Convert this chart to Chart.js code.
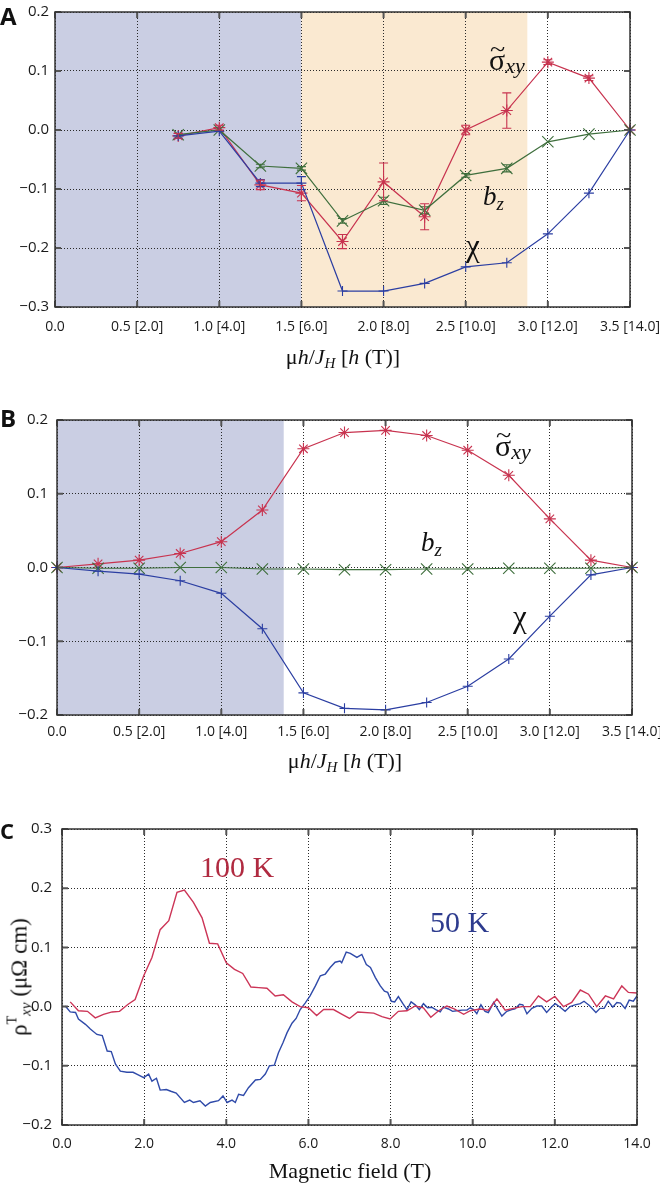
<!DOCTYPE html>
<html><head><meta charset="utf-8">
<script src="https://cdn.jsdelivr.net/npm/chart.js@4.4.1/dist/chart.umd.min.js"></script>
<style>
body{margin:0;width:660px;height:1187px;background:#fff;position:relative;overflow:hidden;}
canvas{position:absolute;left:0;}
.lbl{position:absolute;font-family:'Liberation Serif','DejaVu Serif',serif;white-space:nowrap;line-height:1;color:#111;}
.panel{position:absolute;left:0;font-family:'Open Sans',sans-serif;font-weight:bold;line-height:1;color:#111;}
.ctr{transform:translateX(-50%);}
.sig{position:relative;display:inline-block;font-size:30px;}
.til{position:absolute;left:1px;top:-9px;font-size:28px;transform:scaleY(0.8);}
</style></head><body>
<canvas id="cA" width="660" height="380" style="top:0"></canvas>
<canvas id="cB" width="660" height="400" style="top:380px"></canvas>
<canvas id="cC" width="660" height="407" style="top:780px"></canvas>

<div class="panel" style="top:4px;font-size:24px">A</div>
<div class="panel" style="top:406px;font-size:24px">B</div>
<div class="panel" style="top:819px;font-size:22px">C</div>

<div class="lbl" style="left:489px;top:45px"><span class="sig">σ<span class="til">~</span></span><i style="font-size:22px;position:relative;top:3px">xy</i></div>
<div class="lbl" style="left:483px;top:183px"><i style="font-size:27px">b</i><i style="font-size:19px;position:relative;top:5px">z</i></div>
<div class="lbl" style="left:466px;top:230px;font-size:31px">χ</div>

<div class="lbl" style="left:495px;top:431px"><span class="sig">σ<span class="til">~</span></span><i style="font-size:22px;position:relative;top:3px">xy</i></div>
<div class="lbl" style="left:421px;top:529px"><i style="font-size:27px">b</i><i style="font-size:19px;position:relative;top:5px">z</i></div>
<div class="lbl" style="left:513px;top:601px;font-size:31px">χ</div>

<div class="lbl" style="left:200px;top:852px;font-size:30px;color:#b02a40">100 K</div>
<div class="lbl" style="left:430px;top:907px;font-size:30px;color:#2d3b8e">50 K</div>

<div class="lbl ctr" style="left:343px;top:346px;font-size:22px">μ<i>h</i>/<i>J</i><i style="font-size:15px;position:relative;top:4px">H</i> [<i>h</i> (T)]</div>
<div class="lbl ctr" style="left:345px;top:750px;font-size:22px">μ<i>h</i>/<i>J</i><i style="font-size:15px;position:relative;top:4px">H</i> [<i>h</i> (T)]</div>
<div class="lbl ctr" style="left:350px;top:1160px;font-size:22px">Magnetic field (T)</div>
<div class="lbl" style="left:19px;top:977px;font-size:23px;transform:translate(-50%,-50%) rotate(-90deg)">ρ<span style="font-size:14px;position:relative;top:-10px">T</span><i style="font-size:15px;position:relative;top:4px">xy</i> (μΩ cm)</div>

<script>
// ---------- data ----------
const xTicksAB = ['0.0','0.5 [2.0]','1.0 [4.0]','1.5 [6.0]','2.0 [8.0]','2.5 [10.0]','3.0 [12.0]','3.5 [14.0]'];
const xTicksC = ['0.0','2.0','4.0','6.0','8.0','10.0','12.0','14.0'];

// Panel A
const aX        = [0.75, 1.0, 1.25, 1.5, 1.75, 2.0, 2.25, 2.5, 2.75, 3.0, 3.25, 3.5];
const aSigma    = [-0.010, 0.004, -0.093, -0.107, -0.189, -0.088, -0.147, 0.000, 0.033, 0.115, 0.088, 0.0];
const aSigmaErr = [0.004, 0.004, 0.008, 0.013, 0.012, 0.032, 0.022, 0.008, 0.030, 0.004, 0.004, 0];
const aBz       = [-0.008, 0.000, -0.061, -0.065, -0.154, -0.120, -0.136, -0.077, -0.065, -0.020, -0.007, 0.0];
const aBzErr    = [0, 0, 0.003, 0.003, 0.004, 0.006, 0.006, 0.003, 0.006, 0, 0, 0];
const aChi      = [-0.010, -0.002, -0.090, -0.090, -0.273, -0.273, -0.260, -0.232, -0.225, -0.176, -0.107, 0.0];
const aChiErr   = [0.004, 0, 0.006, 0.011, 0, 0, 0, 0, 0, 0, 0, 0];
const aShadeBlue = [0, 1.5];
const aShadeOrange = [1.5, 2.875];

// Panel B
const bX     = [0, 0.25, 0.5, 0.75, 1.0, 1.25, 1.5, 1.75, 2.0, 2.25, 2.5, 2.75, 3.0, 3.25, 3.5];
const bSigma = [0, 0.005, 0.010, 0.019, 0.035, 0.078, 0.161, 0.183, 0.186, 0.179, 0.159, 0.125, 0.066, 0.010, 0];
const bBz    = [0, -0.001, -0.001, 0, 0, -0.002, -0.002, -0.003, -0.003, -0.002, -0.002, -0.001, -0.001, -0.001, 0];
const bChi   = [0, -0.005, -0.009, -0.018, -0.035, -0.083, -0.170, -0.191, -0.193, -0.183, -0.161, -0.124, -0.066, -0.010, 0];
const bShadeBlue = [0, 1.38];

// Panel C
const c100T = [0.2,0.4,0.62,0.81,1.01,1.22,1.40,1.61,1.78,1.99,2.19,2.39,2.6,2.8,2.98,3.2,3.41,3.59,3.79,4.0,4.2,4.4,4.6,4.79,4.99,5.19,5.39,5.6,5.8,6.0,6.2,6.37,6.61,6.82,7.0,7.2,7.59,7.79,7.99,8.19,8.4,8.6,8.8,8.98,9.17,9.37,9.55,9.78,9.94,10.18,10.38,10.59,10.79,10.99,11.2,11.4,11.6,11.8,12.0,12.21,12.41,12.62,12.82,13.02,13.23,13.43,13.63,13.79,14.0];
const c100V = [0.008,-0.007,-0.008,-0.019,-0.013,-0.009,-0.008,0.004,0.012,0.052,0.083,0.13,0.145,0.193,0.197,0.176,0.15,0.107,0.106,0.074,0.063,0.056,0.033,0.032,0.031,0.018,0.02,0.008,0.0,-0.002,-0.015,-0.005,-0.005,-0.013,-0.02,-0.009,-0.011,-0.017,-0.021,-0.008,-0.007,0.001,-0.002,-0.018,-0.007,0.001,-0.004,-0.013,-0.007,-0.004,-0.006,0.013,-0.006,-0.003,0.0,0.0,0.018,0.008,0.017,0.0,0.007,0.028,0.021,0.0,0.018,0.013,0.035,0.024,0.023];
const c50T = [0.08,0.2,0.33,0.4,0.57,0.69,0.85,0.98,1.10,1.20,1.30,1.42,1.58,1.73,1.82,1.99,2.11,2.19,2.30,2.39,2.54,2.65,2.78,2.98,3.11,3.20,3.36,3.49,3.61,3.81,3.92,4.02,4.14,4.22,4.30,4.42,4.54,4.71,4.83,4.95,5.05,5.17,5.27,5.38,5.48,5.60,5.70,5.80,5.92,6.04,6.17,6.29,6.41,6.53,6.65,6.77,6.81,6.92,7.02,7.18,7.30,7.41,7.51,7.63,7.75,7.85,7.93,8.02,8.10,8.19,8.30,8.40,8.50,8.60,8.70,8.80,8.90,9.0,9.1,9.21,9.28,9.41,9.51,9.61,9.74,9.86,9.94,10.02,10.10,10.2,10.3,10.38,10.51,10.59,10.71,10.83,10.95,11.03,11.14,11.22,11.32,11.44,11.56,11.68,11.80,11.93,12.01,12.13,12.25,12.37,12.49,12.62,12.71,12.84,13.0,13.1,13.2,13.3,13.41,13.51,13.6,13.71,13.81,13.91,14.0];
const c50V = [0.001,-0.009,-0.01,-0.021,-0.03,-0.038,-0.047,-0.049,-0.075,-0.076,-0.097,-0.109,-0.111,-0.111,-0.114,-0.12,-0.114,-0.126,-0.121,-0.141,-0.140,-0.143,-0.146,-0.162,-0.158,-0.162,-0.159,-0.168,-0.162,-0.159,-0.151,-0.162,-0.158,-0.162,-0.148,-0.150,-0.137,-0.124,-0.123,-0.114,-0.100,-0.099,-0.078,-0.061,-0.044,-0.028,-0.02,-0.005,0.006,0.018,0.035,0.052,0.055,0.066,0.075,0.077,0.074,0.092,0.090,0.083,0.088,0.071,0.066,0.049,0.035,0.026,0.024,0.009,0.008,0.017,0.005,-0.005,0.008,0.003,-0.005,0.005,-0.002,-0.001,-0.005,-0.009,-0.001,-0.004,-0.008,-0.007,-0.006,-0.006,-0.002,-0.005,-0.012,0.003,-0.008,-0.010,0.007,-0.002,-0.016,-0.008,-0.005,-0.004,0.004,0.003,-0.012,-0.003,0.001,0.001,-0.010,0.0,0.005,-0.001,-0.008,0.0,0.003,0.005,0.009,0.002,-0.010,-0.003,-0.003,0.009,-0.001,0.007,0.006,-0.003,0.011,0.009,0.018];

// ---------- styles ----------
const RED = '#c8334f', GREEN = '#3f6f3d', BLUE = '#2b3ea2';
const RED_C = '#cc3557', BLUE_C = '#2f4aa9';
const SHADE_BLUE = '#cacee3', SHADE_ORANGE = '#fae9d1';

Chart.defaults.font.family = "'Open Sans', sans-serif";
Chart.defaults.font.size = 14;
Chart.defaults.color = '#1a1a1a';

const fmtY = v => (Math.abs(v) < 1e-9 ? '0.0' : v.toFixed(1)).replace('-', '\u2212');

const decor = {
  id: 'decor',
  beforeDraw(chart, args, opts) {
    const {ctx, chartArea: a, scales: {x}} = chart;
    (opts.shades || []).forEach(s => {
      const x0 = x.getPixelForValue(s.range[0]), x1 = x.getPixelForValue(s.range[1]);
      ctx.save(); ctx.fillStyle = s.color;
      ctx.fillRect(x0, a.top, x1 - x0, a.bottom - a.top);
      ctx.restore();
    });
  },
  afterDatasetsDraw(chart) {
    const {ctx, scales: {y}} = chart;
    chart.data.datasets.forEach((ds, di) => {
      if (!ds.errors) return;
      const meta = chart.getDatasetMeta(di);
      ctx.save(); ctx.strokeStyle = ds.borderColor; ctx.lineWidth = 1.1;
      ds.errors.forEach((e, i) => {
        if (!e) return;
        const p = meta.data[i], v = ds.data[i].y;
        const t = y.getPixelForValue(v + e), b = y.getPixelForValue(v - e);
        ctx.beginPath();
        ctx.moveTo(p.x, t); ctx.lineTo(p.x, b);
        ctx.moveTo(p.x - 4.5, t); ctx.lineTo(p.x + 4.5, t);
        ctx.moveTo(p.x - 4.5, b); ctx.lineTo(p.x + 4.5, b);
        ctx.stroke();
      });
      ctx.restore();
    });
  },
  afterDraw(chart) {
    const {ctx, chartArea: a, scales: {x, y}} = chart;
    ctx.save();
    ctx.strokeStyle = '#555'; ctx.lineWidth = 2;
    ctx.beginPath();
    x.ticks.forEach(t => { const p = x.getPixelForValue(t.value);
      ctx.moveTo(p, a.bottom); ctx.lineTo(p, a.bottom - 6); ctx.moveTo(p, a.top); ctx.lineTo(p, a.top + 6); });
    y.ticks.forEach(t => { const p = y.getPixelForValue(t.value);
      ctx.moveTo(a.left, p); ctx.lineTo(a.left + 6, p); ctx.moveTo(a.right, p); ctx.lineTo(a.right - 6, p); });
    ctx.stroke();
    ctx.strokeStyle = '#333'; ctx.lineWidth = 1.5;
    ctx.strokeRect(a.left, a.top, a.right - a.left, a.bottom - a.top);
    ctx.restore();
  }
};

function pts(xs, ys) { return xs.map((x, i) => ({x, y: ys[i]})); }

function marked(xs, ys, color, style, r, errs) {
  return { data: pts(xs, ys), borderColor: color, backgroundColor: color, pointStyle: style,
    pointRadius: r, pointBorderWidth: 1.1, borderWidth: 1.2, showLine: true, tension: 0,
    clip: false, errors: errs };
}

function makeChart(id, o) {
  return new Chart(document.getElementById(id), {
    type: 'scatter',
    data: { datasets: o.datasets },
    options: {
      responsive: false, animation: false, events: [],
      layout: { padding: { top: o.top, right: o.right, left: 0, bottom: 0 } },
      plugins: { legend: {display: false}, tooltip: {enabled: false}, decor: { shades: o.shades } },
      scales: {
        x: { type: 'linear', min: o.xmin, max: o.xmax,
          afterFit(s) { s.height = o.xh; s.paddingLeft = 0; s.paddingRight = 0; },
          ticks: { stepSize: o.xstep, padding: o.xpad, maxRotation: 0, autoSkip: false,
            callback: v => o.xlabels[Math.round((v - o.xmin) / o.xstep)] },
          grid: { color: '#2a2a2a', lineWidth: 1, drawTicks: false },
          border: { display: false, dash: [1, 2] } },
        y: { type: 'linear', min: o.ymin, max: o.ymax,
          afterFit(s) { s.width = o.yw; s.paddingTop = 0; s.paddingBottom = 0; },
          ticks: { stepSize: 0.1, padding: o.ypad, font: {size: 15}, callback: fmtY },
          grid: { color: '#2a2a2a', lineWidth: 1, drawTicks: false },
          border: { display: false, dash: [1, 2] } }
      }
    },
    plugins: [decor]
  });
}

makeChart('cA', {
  top: 12, right: 30, xh: 73, yw: 55, xpad: 12, ypad: 6,
  xmin: 0, xmax: 3.5, xstep: 0.5, xlabels: xTicksAB, ymin: -0.3, ymax: 0.2,
  shades: [{range: aShadeBlue, color: SHADE_BLUE}, {range: aShadeOrange, color: SHADE_ORANGE}],
  datasets: [
    marked(aX, aChi, BLUE, 'cross', 5, aChiErr),
    marked(aX, aBz, GREEN, 'crossRot', 8, aBzErr),
    marked(aX, aSigma, RED, 'star', 6, aSigmaErr)
  ]
});

makeChart('cB', {
  top: 40, right: 28, xh: 65, yw: 57, xpad: 9, ypad: 9,
  xmin: 0, xmax: 3.5, xstep: 0.5, xlabels: xTicksAB, ymin: -0.2, ymax: 0.2,
  shades: [{range: bShadeBlue, color: SHADE_BLUE}],
  datasets: [
    marked(bX, bChi, BLUE, 'cross', 5, null),
    marked(bX, bBz, GREEN, 'crossRot', 8, null),
    marked(bX, bSigma, RED, 'star', 6, null)
  ]
});

makeChart('cC', {
  top: 49, right: 23, xh: 62, yw: 62, xpad: 11, ypad: 10,
  xmin: 0, xmax: 14, xstep: 2, xlabels: xTicksC, ymin: -0.2, ymax: 0.3,
  shades: [],
  datasets: [
    { data: pts(c100T, c100V), borderColor: RED_C, borderWidth: 1.4, pointRadius: 0, showLine: true, tension: 0 },
    { data: pts(c50T, c50V), borderColor: BLUE_C, borderWidth: 1.4, pointRadius: 0, showLine: true, tension: 0 }
  ]
});
</script>
</body></html>
